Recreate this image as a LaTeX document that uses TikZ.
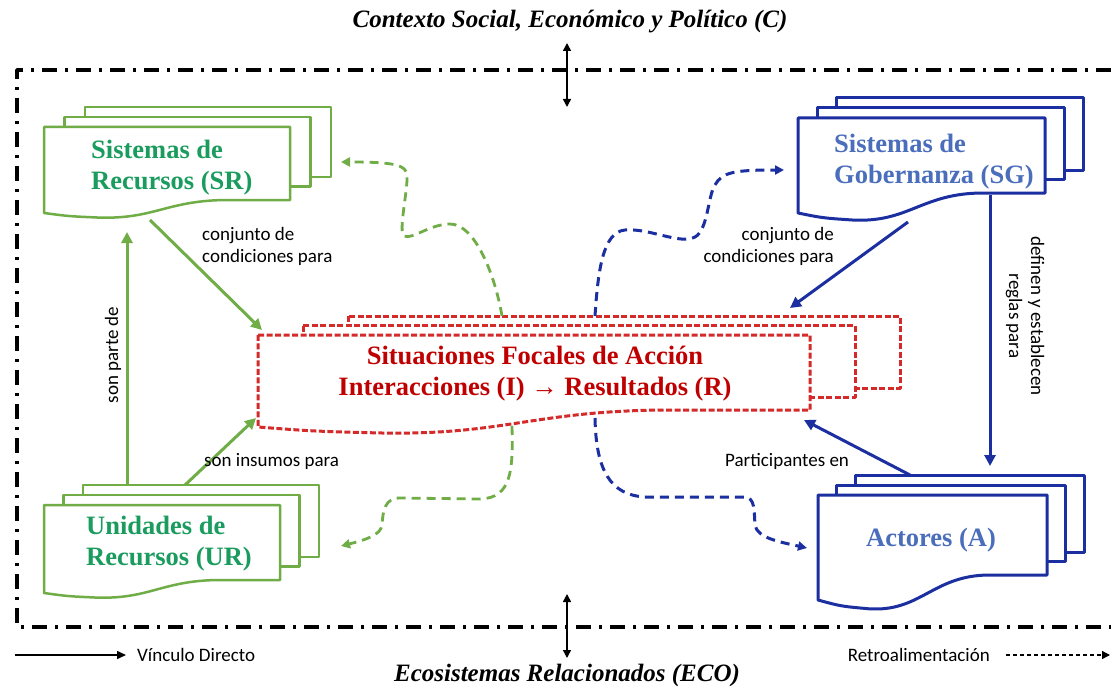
\documentclass[tikz,border=0pt]{standalone}
\usepackage{fontspec}
\setmainfont{Liberation Serif}
\newfontfamily\labfont{Carlito}
\usetikzlibrary{arrows.meta}
\definecolor{grn}{HTML}{70AD47}
\definecolor{grntxt}{HTML}{1A9C5E}
\definecolor{navy}{HTML}{1C2FA0}
\definecolor{bluetxt}{HTML}{4A6EBB}
\definecolor{redline}{HTML}{D42A2A}
\definecolor{redtxt}{HTML}{C00000}
% #1 style, #2 x1, #3 y1, #4 x2, #5 yr, #6 yl, #7 dx, #8 dy
\newcommand{\mystack}[8]{%
  \draw[#1,fill=white] ({#2+2*#7},{#3-2*#8}) rectangle ({#4+2*#7},{#5-2.3*#8});
  \draw[#1,fill=white] ({#2+#7},{#3-#8}) rectangle ({#4+#7},{#5-1.35*#8});
  \draw[#1,fill=white] (#2,#3) -- (#4,#3) -- (#4,#5) -- ({#2+0.75*(#4-#2)},#5)
    .. controls ({#2+0.5*(#4-#2)},#5) and ({#2+0.45*(#4-#2)},{#6+0.5*(#6-#5)})
    .. ({#2+0.22*(#4-#2)},{#6+0.35*(#6-#5)})
    .. controls ({#2+0.1*(#4-#2)},{#6+0.25*(#6-#5)}) .. (#2,#6) -- cycle;
}
\begin{document}
\begin{tikzpicture}[x=1pt,y=-1pt,
  line join=round,
  boxtxt/.style={inner sep=0pt,font=\fontsize{26.5}{31}\selectfont\bfseries},
  titletxt/.style={inner sep=0pt,font=\fontsize{25}{29}\selectfont\bfseries\itshape},
  lbl/.style={inner sep=0pt,font=\labfont\fontsize{19}{22}\selectfont},
  gbox/.style={draw=grn,line width=2.5pt},
  bbox/.style={draw=navy,line width=3pt},
  rbox/.style={draw=redline,line width=3pt,dash pattern=on 6pt off 2.5pt},
  garrow/.style={draw=grn,line width=3pt,-{Triangle[length=11pt,width=11pt]}},
  barrow/.style={draw=navy,line width=3pt,-{Triangle[length=11pt,width=11pt]}},
  gdash/.style={draw=grn,line width=2.8pt,dash pattern=on 9pt off 6pt,-{Triangle[length=9pt,width=9pt]}},
  bdash/.style={draw=navy,line width=3pt,dash pattern=on 9pt off 6pt,-{Triangle[length=9pt,width=9pt]}},
  frame/.style={draw=black,line width=3.5pt,dash pattern=on 15pt off 8pt on 3pt off 8pt},
  thinarrow/.style={draw=black,line width=1.5pt,{Triangle[length=8pt,width=8pt]}-{Triangle[length=8pt,width=8pt]}}
]
\useasboundingbox[fill=white] (0,0) rectangle (1111,690);

% frame
\draw[frame] (1111,70) -- (17,70) -- (17,627) -- (1111,627);

% titles
\node[titletxt] (ctx) at (570,22) {Contexto Social, Económico y Político (C)};
\node[titletxt] (eco) at (567,675) {Ecosistemas Relacionados (ECO)};
\coordinate (ctxa) at (567,43);
\coordinate (ctxb) at (567,107);
\coordinate (ecoa) at (567,594);
\coordinate (ecob) at (567,658);
\draw[thinarrow] (ctxa) -- (ctxb);
\draw[thinarrow] (ecoa) -- (ecob);

% stacks
\mystack{gbox}{44}{127}{290}{200}{213}{20.5}{10}
\mystack{gbox}{44}{505}{280}{580}{593}{19.5}{10}
\mystack{bbox}{798}{118}{1045}{193}{213}{19}{10}
\mystack{bbox}{818}{495}{1047}{575}{600}{18.5}{10}
\mystack{rbox}{258}{335}{810}{410}{427}{45}{9.5}

% box texts
\node[boxtxt,text=grntxt,anchor=west,align=left] (sr) at (91,168) {Sistemas de\\Recursos (SR)};
\node[boxtxt,text=grntxt,anchor=west,align=left] (ur) at (86,544) {Unidades de\\Recursos (UR)};
\node[boxtxt,text=bluetxt,anchor=west,align=left] (sg) at (834,162) {Sistemas de\\Gobernanza (SG)};
\node[boxtxt,text=bluetxt] (act) at (931,540) {Actores (A)};
\node[boxtxt,text=redtxt,align=center] (fa) at (535,374) {Situaciones Focales de Acción\\Interacciones (I) → Resultados (R)};

% connector end points
\coordinate (srout) at (150,220);
\coordinate (fain1) at (262,330);
\coordinate (urout1) at (185,485);
\coordinate (fain2) at (256,418);
\coordinate (urout2) at (127,485);
\coordinate (srin) at (127,232);
\coordinate (sgout1) at (908,222);
\coordinate (fain3) at (790,308);
\coordinate (sgout2) at (990,195);
\coordinate (actin) at (990,466);
\coordinate (actout) at (910,475);
\coordinate (fain4) at (804,420);

\draw[garrow] (srout) -- (fain1);
\draw[garrow] (urout1) -- (fain2);
\draw[garrow] (urout2) -- (srin);
\draw[barrow] (sgout1) -- (fain3);
\draw[barrow] (sgout2) -- (actin);
\draw[barrow] (actout) -- (fain4);

% labels
\node[lbl,anchor=north west,align=left] (l1) at (202,227) {conjunto de\\condiciones para};
\node[lbl,anchor=west] (l2) at (204,461) {son insumos para};
\node[lbl,rotate=90] (l3) at (113,355) {son parte de};
\node[lbl,anchor=north east,align=right] (l4) at (834,227) {conjunto de\\condiciones para};
\node[lbl,rotate=-90,align=center] (l5) at (1025,316) {definen y establecen\\reglas para};
\node[lbl,anchor=west] (l6) at (725,461) {Participantes en};

% feedback curves
\coordinate (g1s) at (502,316);
\coordinate (g1e) at (341,162);
\draw[gdash] (g1s) .. controls (495,275) and (475,224) .. (450,224)
  .. controls (430,224) and (412,240) .. (404,236)
  .. controls (398,232) and (408,190) .. (407,175)
  .. controls (406,165) and (395,162) .. (g1e);
\coordinate (b1s) at (595,316);
\coordinate (b1e) at (784,170);
\draw[bdash] (b1s) .. controls (598,270) and (603,232) .. (625,230)
  .. controls (650,228) and (680,245) .. (695,237)
  .. controls (708,230) and (708,195) .. (715,185)
  .. controls (722,172) and (735,170) .. (b1e);
\coordinate (g2s) at (512,426);
\coordinate (g2e) at (341,546);
\draw[gdash] (g2s) .. controls (513,470) and (512,498) .. (480,499) -- (400,498)
  .. controls (385,498) and (383,510) .. (382,525)
  .. controls (381,535) and (365,540) .. (g2e);
\coordinate (b2s) at (595,418);
\coordinate (b2e) at (807,548);
\draw[bdash] (b2s) .. controls (596,470) and (610,495) .. (645,497) -- (745,497)
  .. controls (755,498) and (754,510) .. (755,525)
  .. controls (757,538) and (780,542) .. (b2e);

% legend
\coordinate (lg1a) at (15,655);
\coordinate (lg1b) at (126,655);
\draw[draw=black,line width=1.5pt,-{Triangle[length=9pt,width=8pt]}] (lg1a) -- (lg1b);
\node[lbl,anchor=west] (vd) at (137,655) {Vínculo Directo};
\node[lbl,anchor=east] (rt) at (990,655) {Retroalimentación};
\coordinate (lg2a) at (1006,655);
\coordinate (lg2b) at (1110,655);
\draw[draw=black,line width=1.3pt,dash pattern=on 4pt off 3pt,-{Triangle[length=8pt,width=8pt]}] (lg2a) -- (lg2b);
\end{tikzpicture}
\end{document}
